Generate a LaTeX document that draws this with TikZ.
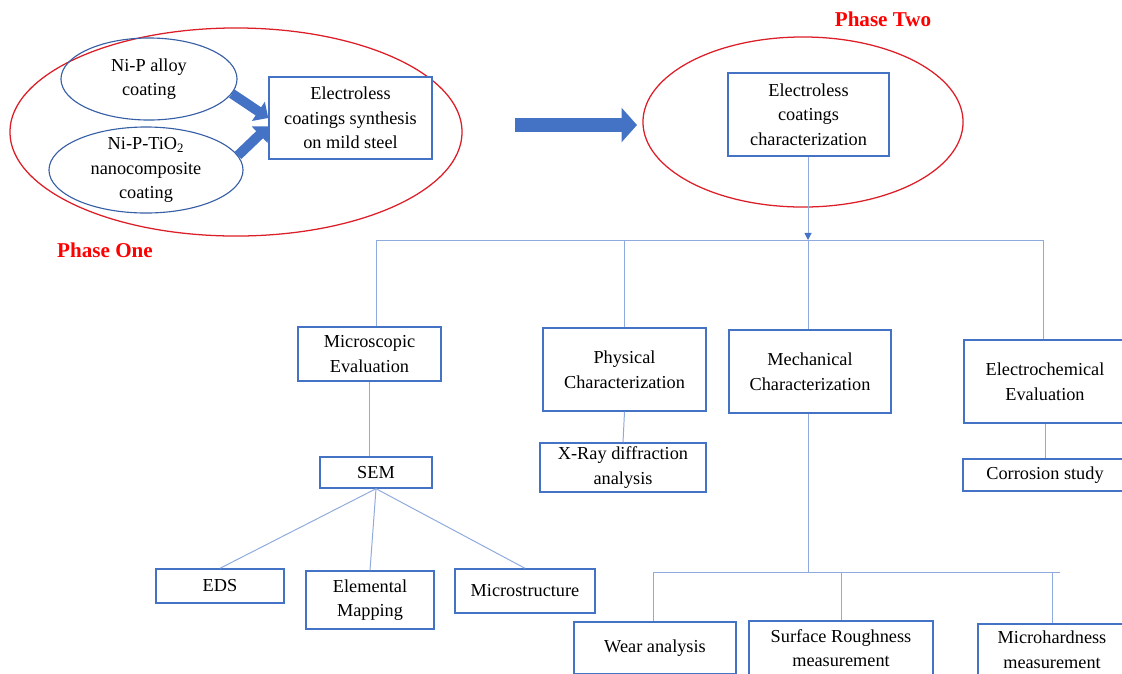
\documentclass[tikz,border=0pt]{standalone}
\usepackage{fontspec}
\setmainfont{Liberation Serif}
\usetikzlibrary{shapes.geometric, arrows.meta, positioning, calc}
\definecolor{boxblue}{RGB}{68,114,196}
\definecolor{ovalblue}{RGB}{55,95,165}
\definecolor{linkblue}{RGB}{143,170,220}
\definecolor{ovalred}{RGB}{220,30,40}
\definecolor{phasered}{RGB}{255,0,0}

\begin{document}
\begin{tikzpicture}[
    x=0.025cm, y=-0.025cm,
    every node/.style={font=\fontsize{13}{17.5}\selectfont},
    block/.style={draw=boxblue, line width=1pt, fill=white, align=center, inner sep=2pt},
    oval/.style={ellipse, draw=ovalblue, line width=0.8pt},
    phase/.style={ellipse, draw=ovalred, line width=0.9pt},
    phaselabel/.style={text=phasered, font=\bfseries\fontsize{15}{18}\selectfont},
    link/.style={draw=linkblue, line width=0.7pt},
    fatarrow/.style={draw=boxblue, line width=7pt, -{Triangle[length=8.5pt, width=16pt]}},
    bigarrow/.style={draw=boxblue, line width=10.5pt, -{Triangle[length=11pt, width=24pt]}}
]
    \path[use as bounding box] (0,0) rectangle (1122,673);
    \clip (0,0) rectangle (1122,673);

    % Phase one
    \node[phase, minimum width=11.3cm, minimum height=5.2cm] (phaseone) at (236,132) {};
    \node[oval, minimum width=4.4cm, minimum height=2.05cm] (alloy) at (149,79) {};
    \node[align=center] at (alloy) {Ni-P alloy\\coating};
    \node[oval, minimum width=4.85cm, minimum height=2.15cm] (tio2) at (146,170) {};
    \node[align=center] at (tio2) {Ni-P-TiO\textsubscript{2}\\nanocomposite\\coating};
    \node[block, minimum width=4.075cm, minimum height=2.05cm] (synth) at (350.5,118) {Electroless\\coatings synthesis\\on mild steel};
    \node[phaselabel] (phaseonelabel) at (105,250) {Phase One};

    \draw[fatarrow] (alloy.-10) -- (synth.west);
    \draw[fatarrow] (tio2.9) -- ([yshift=-6pt]synth.west);

    % Phase two
    \node[phase, minimum width=8cm, minimum height=4.25cm] (phasetwo) at (803,122) {};
    \node[block, minimum width=4.025cm, minimum height=2.075cm] (charz) at (808.5,114.5) {Electroless\\coatings\\characterization};
    \node[phaselabel] (phasetwolabel) at (883,19) {Phase Two};

    % Transition arrow
    \coordinate (gapL) at (515,125);
    \coordinate (gapR) at (637,125);
    \draw[bigarrow] (gapL) -- (gapR);

    % Characterization groups
    \node[block, minimum width=3.575cm, minimum height=1.35cm] (micro) at (369.5,354) {Microscopic\\Evaluation};
    \node[block, minimum width=4.075cm, minimum height=2.075cm] (phys) at (624.5,369.5) {Physical\\Characterization};
    \node[block, minimum width=4.05cm, minimum height=2.075cm] (mech) at (810,371.5) {Mechanical\\Characterization};
    \node[block, minimum width=4.05cm, minimum height=2.075cm] (echem) at (1045,381.5) {Electrochemical\\Evaluation};

    % Techniques
    \node[block, minimum width=4.15cm, minimum height=1.225cm] (xray) at (623,467.5) {X-Ray diffraction\\analysis};
    \node[block, minimum width=2.8cm, minimum height=0.775cm] (sem) at (376,472.5) {SEM};
    \node[block, minimum width=4.1cm, minimum height=0.8cm] (corr) at (1045,475) {Corrosion study};
    \node[block, minimum width=3.2cm, minimum height=0.85cm] (eds) at (220,586) {EDS};
    \node[block, minimum width=3.2cm, minimum height=1.45cm] (elem) at (370,600) {Elemental\\Mapping};
    \node[block, minimum width=3.5cm, minimum height=1.1cm] (mstr) at (525,591) {Microstructure};
    \node[block, minimum width=4.05cm, minimum height=1.3cm] (wear) at (655,648) {Wear analysis};
    \node[block, minimum width=4.6cm, minimum height=1.35cm] (surf) at (841,648) {Surface Roughness\\measurement};
    \node[block, minimum width=3.7cm, minimum height=1.3cm] (mhard) at (1052,650) {Microhardness\\measurement};

    % Upper tree
    \coordinate (hub) at (808,240);
    \coordinate (busL) at (376,240);
    \coordinate (busR) at (1043,240);
    \draw[link, -{Triangle[length=5pt, width=5pt, color=boxblue]}] (charz.south -| hub) -- (hub);
    \draw[link] (busL) -- (busR);
    \draw[link] (busL) -- (busL |- micro.north);
    \draw[link] (phys.north |- busL) -- (phys.north);
    \draw[link] (hub) -- (hub |- mech.north);
    \draw[link] (busR) -- (busR |- echem.north);

    \draw[link] (micro.south) -- (micro.south |- sem.north);
    \draw[link] (phys.south) -- (xray.north);
    \draw[link] (echem.south) -- (corr.north);
    \draw[link] (sem.south) -- (eds.north);
    \draw[link] (sem.south) -- (elem.north);
    \draw[link] (sem.south) -- (mstr.north);

    % Lower tree
    \coordinate (mechhub) at (808,572);
    \coordinate (lowL) at (653,572);
    \coordinate (lowR) at (1060,572);
    \draw[link] (mech.south -| mechhub) -- (mechhub);
    \draw[link] (lowL) -- (lowR);
    \draw[link] (lowL) -- (lowL |- wear.north);
    \draw[link] (surf.north |- lowL) -- (surf.north);
    \draw[link] (mhard.north |- lowL) -- (mhard.north);

\end{tikzpicture}
\end{document}
